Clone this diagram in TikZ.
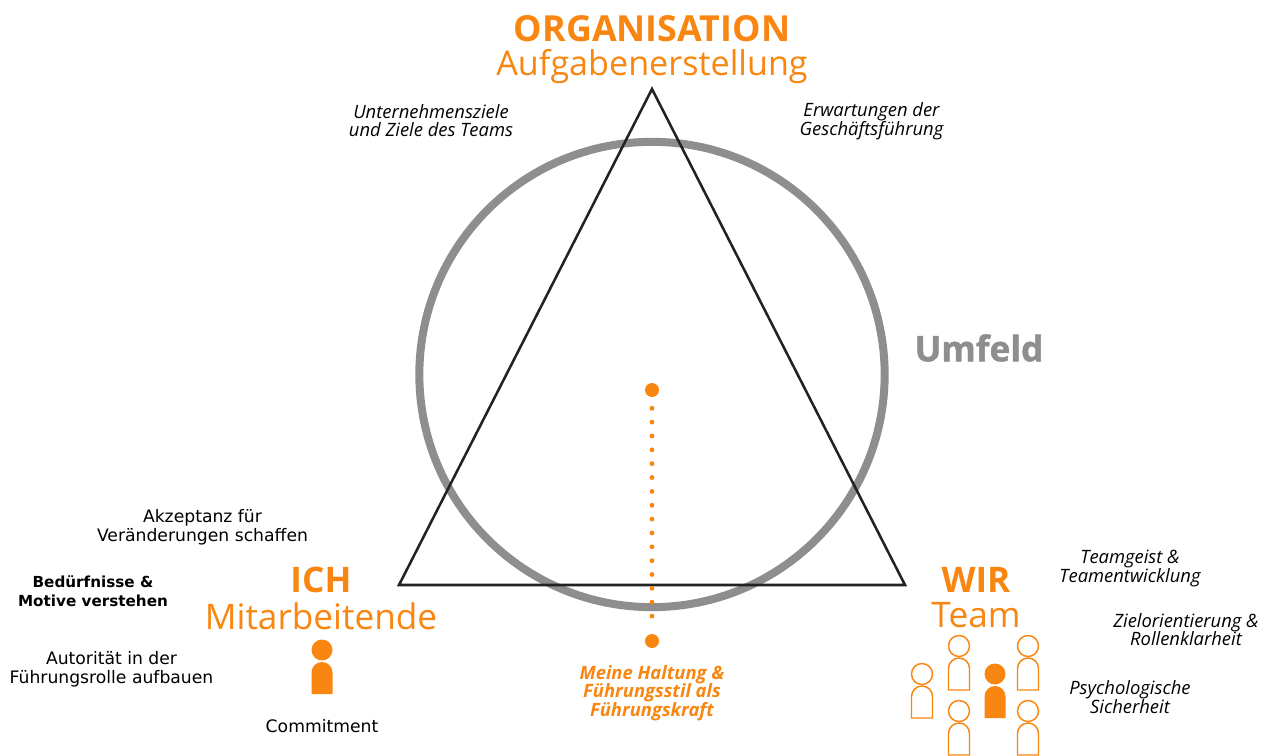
\documentclass[tikz,border=0pt]{standalone}
\usepackage{fontspec}
\setmainfont{Open Sans}
\newfontfamily\lucidafont{DejaVu Sans}
\newfontfamily\heavyfont[BoldFeatures={FakeBold=1.3}]{Open Sans}
\definecolor{orangeH}{HTML}{F98611}
\definecolor{greyU}{HTML}{8E8E8E}
\definecolor{blackT}{HTML}{222222}
\begin{document}
\begin{tikzpicture}[x=0.75pt,y=-0.75pt]
	\tikzstyle{title}=[text=orangeH,font=\fontsize{26.4}{26}\selectfont\bfseries,inner sep=0pt]
	\tikzstyle{subtitle}=[text=orangeH,font=\fontsize{26.4}{26}\selectfont,inner sep=0pt]
	\tikzstyle{goal}=[align=center,inner sep=0pt,font=\fontsize{13.8}{14}\selectfont\itshape]
	\tikzstyle{need}=[align=center,inner sep=0pt,font=\lucidafont\fontsize{12.9}{14.2}\selectfont]
	\tikzstyle{spot}=[circle,fill=orangeH,inner sep=0pt,minimum size=10.5pt]
	\tikzstyle{head}=[circle,inner sep=0pt,minimum size=15.75pt]
	\useasboundingbox (0,0) rectangle (1265,756);
	\clip (0,0) rectangle (1265,756);

	\coordinate (org) at (652,89);
	\coordinate (ich) at (399,585);
	\coordinate (wir) at (905,585);

	\node [circle,draw=greyU,line width=6pt,inner sep=0pt,minimum size=349pt] (umfeldring) at (652,374.5) {};
	\draw [blackT,line width=1.9pt] (org) -- (ich) -- (wir) -- cycle;

	\node [spot] (top) at (652,390) {};
	\node [spot] (bottom) at (652,641) {};
	\draw [orangeH,line width=3.6pt,line cap=round,dash pattern=on 0pt off 10.39pt,shorten <=8.25pt,shorten >=3pt] (top) -- (bottom);

	% headings
	\node [title,font=\fontsize{26.9}{26}\selectfont\bfseries] (orgt) at (652,29) {ORGANISATION};
	\node [subtitle,font=\fontsize{25.6}{26}\selectfont] (orgs) at (652,67) {Aufgabenerstellung};
	\node [title] (icht) at (321,580) {ICH};
	\node [subtitle] (ichs) at (321,616) {Mitarbeitende};
	\node [title] (wirt) at (976,580) {WIR};
	\node [subtitle] (wirs) at (976,615) {Team};
	\node [text=greyU,inner sep=0pt,font=\heavyfont\fontsize{26.4}{26}\selectfont\bfseries] (umfeld) at (979,348) {Umfeld};

	% top
	\node [goal] (ziele) at (431,120.5) {Unternehmensziele\\und Ziele des Teams};
	\node [goal] (erwart) at (871.5,121.5) {Erwartungen der\\Geschäftsführung};

	% ich
	\node [need] (akzept) at (202.5,527) {Akzeptanz für\\Veränderungen schaffen};
	\node [need,font=\lucidafont\fontsize{11.4}{14.2}\selectfont\bfseries] (motive) at (93,591) {Bedürfnisse \&\\Motive verstehen};
	\node [need] (autor) at (111.5,669) {Autorität in der\\Führungsrolle aufbauen};
	\node [need] (commit) at (322,726) {Commitment};

	% wir
	\node [goal] (geist) at (1130,568.5) {Teamgeist \&\\Teamentwicklung};
	\node [goal] (rollen) at (1186,629.5) {Zielorientierung \&\\Rollenklarheit};
	\node [goal] (sicher) at (1130,697) {Psychologische\\Sicherheit};

	% haltung
	\node [goal,text=orangeH,font=\fontsize{13.8}{14}\selectfont\itshape\bfseries] (haltung) at (652,693) {Meine Haltung \&\\Führungsstil als\\Führungskraft};

	% people
	\foreach \name/\px/\py in {a/922/674,b/959/646,c/959/711,d/1028/646,e/1028/711}{
		\node [head,draw=orangeH,line width=1.1pt] (head\name) at (\px,\py) {};
		\draw [orangeH,line width=1.1pt] (\px-10.5,\py+44) -- (\px-10.5,\py+22.5) arc[start angle=180,end angle=360,radius=10.5] -- (\px+10.5,\py+44) -- cycle;
	}
	\foreach \name/\px/\py in {f/322/650,g/995/674}{
		\node [head,fill=orangeH] (head\name) at (\px,\py) {};
		\fill [orangeH] (\px-10.5,\py+44) -- (\px-10.5,\py+22.5) arc[start angle=180,end angle=360,radius=10.5] -- (\px+10.5,\py+44) -- cycle;
	}
\end{tikzpicture}
\end{document}
